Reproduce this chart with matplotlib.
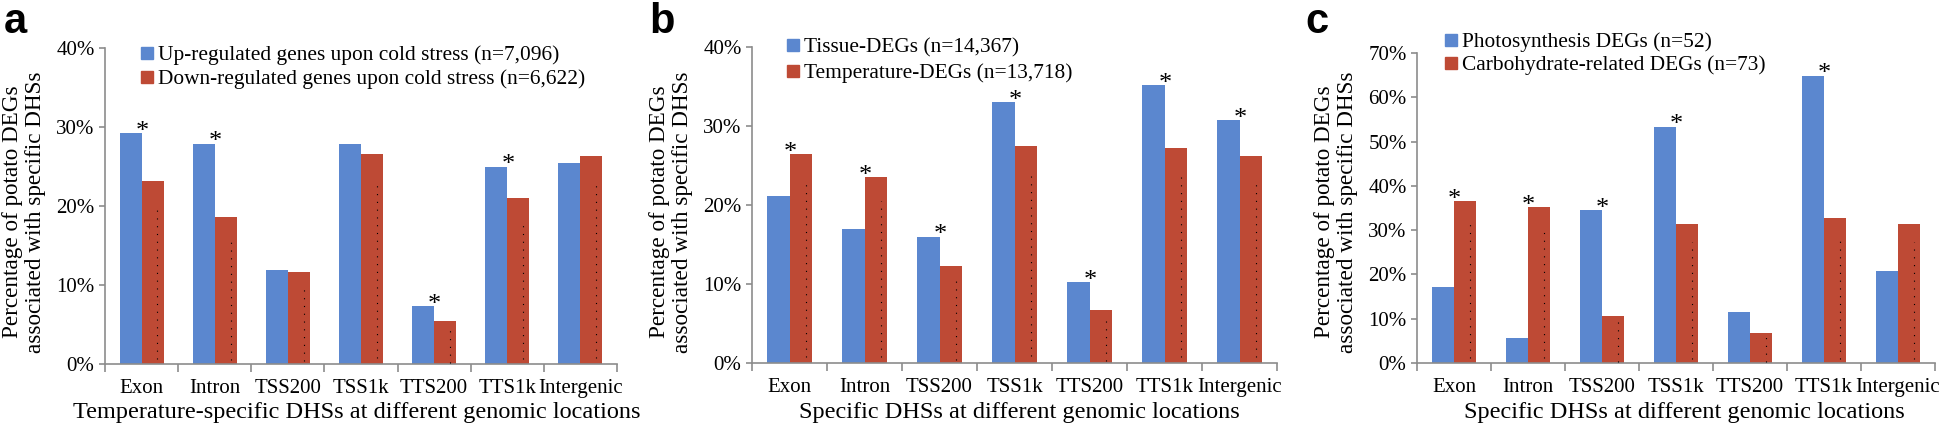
import numpy as np
import matplotlib
matplotlib.use("Agg")
import matplotlib.pyplot as plt
from matplotlib.patches import Rectangle

# ================== 数据 ==================
locations = ["Exon", "Intron", "TSS200", "TSS1k", "TTS200", "TTS1k", "Intergenic"]

# panel a
a_up = [29.2, 27.9, 11.9, 27.9, 7.3, 25.0, 25.5]
a_down = [23.2, 18.6, 11.6, 26.6, 5.4, 21.0, 26.3]
a_star_up = [True, True, False, False, True, True, False]
a_star_down = [False] * 7

# panel b
b_tissue = [21.1, 16.9, 16.0, 33.0, 10.2, 35.2, 30.8]
b_temp = [26.5, 23.5, 12.3, 27.5, 6.75, 27.2, 26.2]
b_star_tissue = [False, False, True, True, True, True, True]
b_star_temp = [True, True, False, False, False, False, False]

# panel c
c_photo = [17.1, 5.6, 34.5, 53.4, 11.5, 64.9, 20.8]
c_carb = [36.5, 35.2, 10.7, 31.5, 6.8, 32.7, 31.5]
c_star_photo = [False, False, True, True, False, True, False]
c_star_carb = [True, True, False, False, False, False, False]

BLUE = "#5B87CF"
RED = "#BE4A35"
GREY = "#8C8C8C"
SERIF = "Liberation Serif"

W, H = 1942, 424
fig = plt.figure(figsize=(W / 100, H / 100), dpi=100)


def fx(px):
    return px / W


def fy(py):
    return 1 - py / H


def px_axes(left, right, bottom, top):
    return fig.add_axes([fx(left), fy(bottom), (right - left) / W, (bottom - top) / H])


def draw_panel(ax, box, s1, s2, star1, star2, ymax, names, xlabel, letter,
               letter_xy, legend_xy, ylab_x, xlab_x):
    left, right, bottom, top = box
    x = np.arange(len(locations))
    bw = 0.3
    ax.bar(x - bw / 2, s1, bw, color=BLUE, zorder=2)
    ax.bar(x + bw / 2, s2, bw, color=RED, zorder=2)

    # 扫描图里红柱上的小黑点
    for xi, v in zip(x, s2):
        ax.plot([xi + bw * 0.72, xi + bw * 0.72], [v * 0.03, v * 0.87],
                color="black", lw=0.8, ls=(0, (1, 6)), zorder=3)

    # 显著性星号
    for xi, v1, v2, f1, f2 in zip(x, s1, s2, star1, star2):
        if f1 or f2:
            v = v1 if f1 else v2
            ax.annotate("*", (xi, v), xytext=(0.5, -3.5), textcoords="offset points",
                        ha="center", va="baseline", fontsize=19, family=SERIF)

    ax.set_xlim(-0.5, len(locations) - 0.5)
    ax.set_ylim(0, ymax)
    ticks = np.arange(0, ymax + 1, 10)
    ax.set_yticks(ticks)
    ax.set_yticklabels([f"{int(t)}%" for t in ticks])
    ax.set_xticks(x)
    ax.set_xticklabels(locations)
    ax.set_xticks(np.arange(-0.5, len(locations)), minor=True)
    ax.tick_params(axis="x", which="major", length=0, pad=11, labelsize=15)
    ax.tick_params(axis="x", which="minor", length=6, color=GREY, width=1.2)
    ax.tick_params(axis="y", length=4.5, color=GREY, width=1.2, labelsize=15, pad=3)
    for lab in ax.get_xticklabels() + ax.get_yticklabels():
        lab.set_family(SERIF)
    for s in ["top", "right"]:
        ax.spines[s].set_visible(False)
    for s in ["left", "bottom"]:
        ax.spines[s].set_color(GREY)
        ax.spines[s].set_linewidth(1.2)

    # 横轴标题
    ax.set_xlabel(xlabel, family=SERIF, fontsize=17.5)
    ax.xaxis.label.set_va("baseline")
    ax.xaxis.set_label_coords((xlab_x - left) / (right - left),
                              -(418 - bottom) / (bottom - top))

    # 纵轴标题（两行）
    fig.text(fx(ylab_x), fy(212),
             "Percentage of potato DEGs\nassociated with specific DHSs",
             rotation=90, ha="center", va="center", family=SERIF, fontsize=16.7,
             linespacing=1.15)
    fig.text(fx(letter_xy[0]), fy(letter_xy[1]), letter, family="Liberation Sans",
             fontweight="bold", fontsize=30, ha="left", va="baseline")

    # 图例（手动放置）
    lx, ly0, dy = legend_xy
    for i, (name, col) in enumerate(zip(names, [BLUE, RED])):
        cy = ly0 + i * dy
        fig.patches.append(Rectangle((fx(lx), fy(cy + 6)), 12 / W, 12 / H,
                                     transform=fig.transFigure, color=col))
        fig.text(fx(lx + 17), fy(cy + 7), name, family=SERIF, fontsize=15.4,
                 ha="left", va="baseline")


box_a = (105, 617, 364, 48)
ax_a = px_axes(*box_a)
draw_panel(ax_a, box_a, a_up, a_down, a_star_up, a_star_down, 40,
           ["Up-regulated genes upon cold stress (n=7,096)",
            "Down-regulated genes upon cold stress (n=6,622)"],
           "Temperature-specific DHSs at different genomic locations",
           "a", (4, 33), (141, 53, 24), 24, 357)

box_b = (752, 1277, 363, 47)
ax_b = px_axes(*box_b)
draw_panel(ax_b, box_b, b_tissue, b_temp, b_star_tissue, b_star_temp, 40,
           ["Tissue-DEGs (n=14,367)", "Temperature-DEGs (n=13,718)"],
           "Specific DHSs at different genomic locations",
           "b", (649, 33), (787, 45, 26), 671, 1019)

box_c = (1417, 1935, 363, 53)
ax_c = px_axes(*box_c)
draw_panel(ax_c, box_c, c_photo, c_carb, c_star_photo, c_star_carb, 70,
           ["Photosynthesis DEGs (n=52)", "Carbohydrate-related DEGs (n=73)"],
           "Specific DHSs at different genomic locations",
           "c", (1305, 33), (1445, 40, 23), 1336, 1684)

fig.savefig("out.png", dpi=100)
